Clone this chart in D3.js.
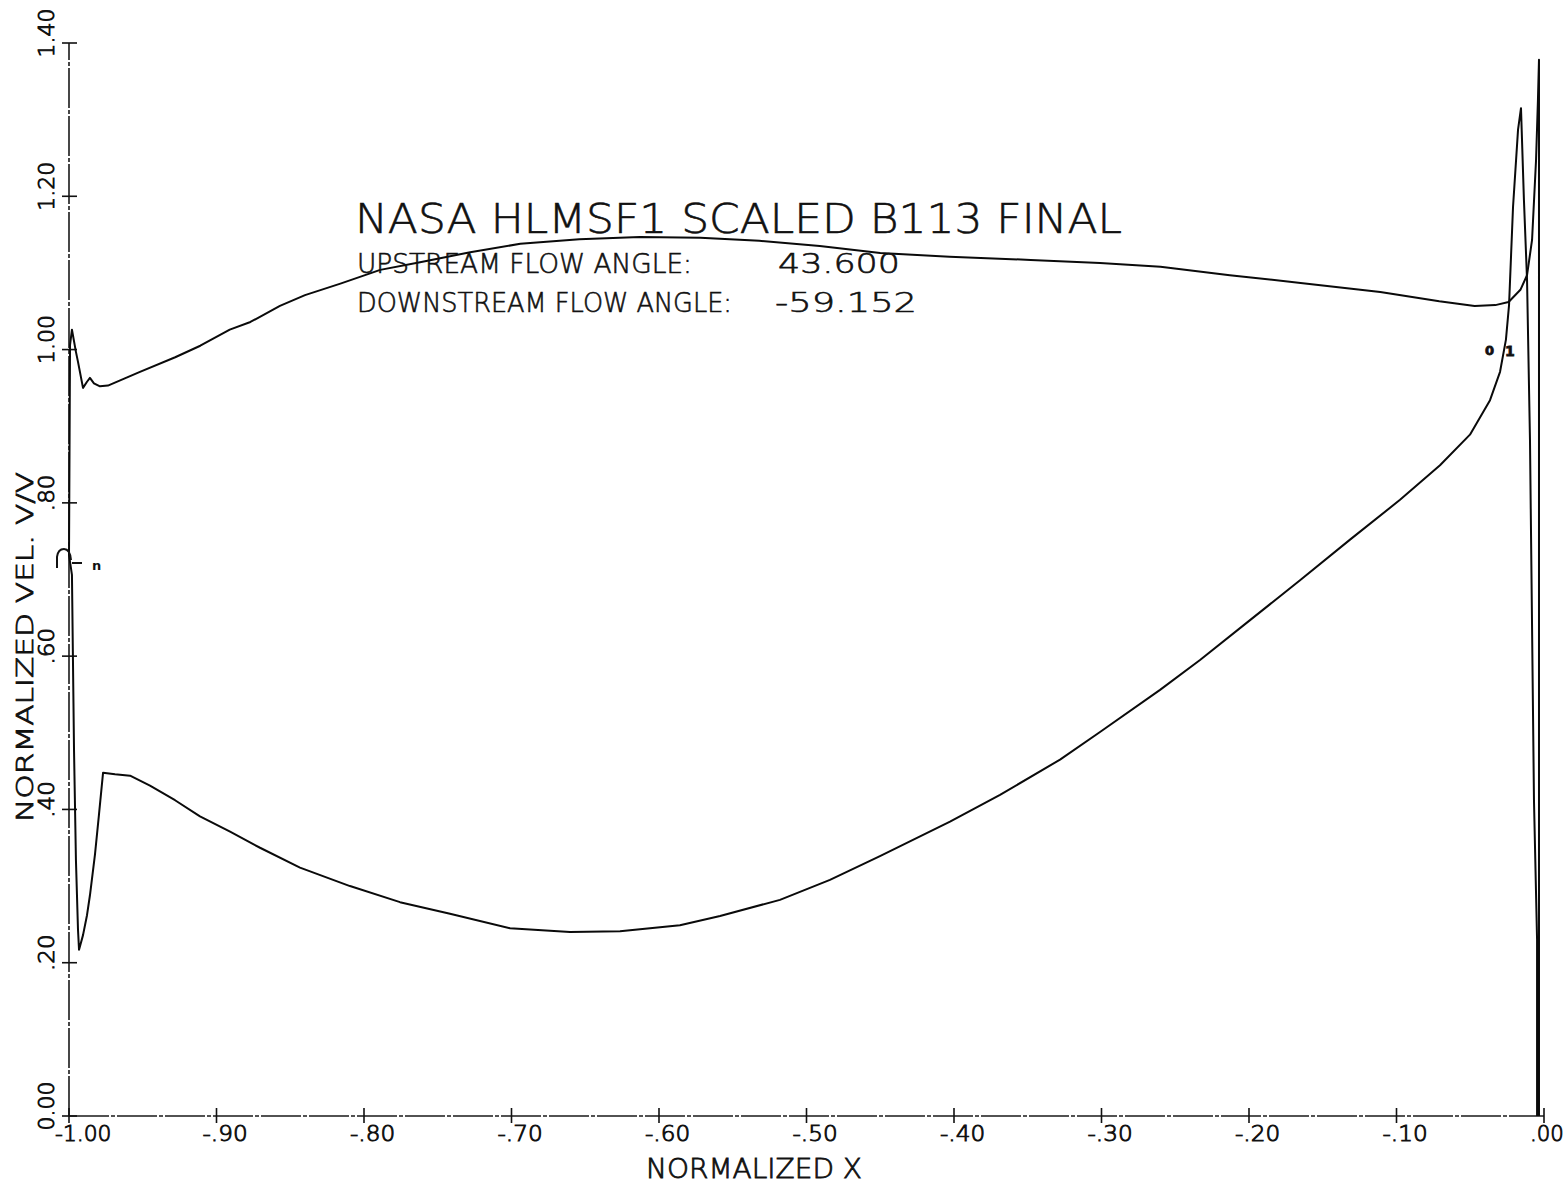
<!DOCTYPE html>
<html>
<head>
<meta charset="utf-8">
<script src="https://cdn.jsdelivr.net/npm/d3@7"></script>
<style>
  html, body { margin: 0; padding: 0; background: #fff; }
  svg { display: block; }
  .plotter { font-family: "DejaVu Sans", "Liberation Sans", sans-serif; fill: #111; }
</style>
</head>
<body>
<svg id="chart" width="1567" height="1183"></svg>
<script>
// Normalized surface velocity along the blade (upper and lower surfaces)
const upperX = [-1.0000, -0.9993, -0.9980, -0.9953, -0.9939, -0.9905, -0.9878, -0.9858, -0.9831, -0.9790,
  -0.9736, -0.9519, -0.9280, -0.9110, -0.8910, -0.8770, -0.8570, -0.8400, -0.8160, -0.7890,
  -0.7620, -0.7280, -0.6940, -0.6540, -0.6130, -0.5720, -0.5320, -0.4910, -0.4500, -0.4030,
  -0.3480, -0.3010, -0.2600, -0.2130, -0.1650, -0.1110, -0.0710, -0.0470, -0.0330, -0.0240,
  -0.0160, -0.0115, -0.0081, -0.0054, -0.0041, -0.0034, -0.0034];
const upperV = [0.732, 1.006, 1.026, 0.997, 0.984, 0.950, 0.958, 0.963, 0.956, 0.952,
  0.953, 0.971, 0.990, 1.005, 1.026, 1.036, 1.057, 1.071, 1.086, 1.104,
  1.114, 1.127, 1.138, 1.144, 1.147, 1.146, 1.142, 1.135, 1.126, 1.121,
  1.117, 1.113, 1.108, 1.097, 1.087, 1.075, 1.063, 1.057, 1.058, 1.062,
  1.078, 1.097, 1.143, 1.247, 1.326, 1.378, 0.000];

const lowerX = [-1.0000, -0.9980, -0.9966, -0.9953, -0.9939, -0.9932, -0.9905, -0.9878, -0.9858, -0.9824,
  -0.9797, -0.9769, -0.9688, -0.9586, -0.9451, -0.9281, -0.9112, -0.8908, -0.8705, -0.8434,
  -0.8095, -0.7756, -0.7417, -0.7010, -0.6603, -0.6264, -0.5858, -0.5586, -0.5180, -0.4841,
  -0.4502, -0.4027, -0.3688, -0.3281, -0.3010, -0.2603, -0.2332, -0.1993, -0.1654, -0.1315,
  -0.0976, -0.0705, -0.0502, -0.0366, -0.0298, -0.0258, -0.0237, -0.0210, -0.0176, -0.0156,
  -0.0136, -0.0115, -0.0095, -0.0068, -0.0047, -0.0047];
const lowerV = [0.732, 0.706, 0.478, 0.334, 0.243, 0.217, 0.236, 0.262, 0.288, 0.341,
  0.393, 0.448, 0.446, 0.444, 0.431, 0.412, 0.391, 0.371, 0.350, 0.324,
  0.300, 0.279, 0.264, 0.245, 0.240, 0.241, 0.249, 0.261, 0.282, 0.308,
  0.339, 0.384, 0.419, 0.465, 0.501, 0.556, 0.595, 0.647, 0.699, 0.752,
  0.804, 0.849, 0.889, 0.934, 0.971, 1.013, 1.058, 1.186, 1.287, 1.315,
  1.195, 1.091, 0.882, 0.412, 0.230, 0.000];

// Axis ticks and their printed labels
const xTicks = [-1.0, -0.9, -0.8, -0.7, -0.6, -0.5, -0.4, -0.3, -0.2, -0.1, 0.0];
const xTickLabels = ["-1.00", "-.90", "-.80", "-.70", "-.60", "-.50", "-.40", "-.30", "-.20", "-.10", ".00"];
const yTicks = [0.0, 0.2, 0.4, 0.6, 0.8, 1.0, 1.2, 1.4];
const yTickLabels = ["0.00", ".20", ".40", ".60", ".80", "1.00", "1.20", "1.40"];

const titleText = "NASA HLMSF1 SCALED B113 FINAL";
const flowLabels = ["UPSTREAM FLOW ANGLE:", "DOWNSTREAM FLOW ANGLE:"];
const flowValues = ["43.600", "-59.152"];
const xAxisTitle = "NORMALIZED X";
const yAxisTitle = "NORMALIZED VEL. V/V";

const svg = d3.select("#chart");
const x = d3.scaleLinear().domain([-1, 0]).range([69, 1544]);
const y = d3.scaleLinear().domain([0, 1.4]).range([1116, 43]);

// Plotter-style lettering: thin constant pen, glyphs squeezed to a set run length
function letter(g, str, px, py, size, len, weight, pen) {
  const t = g.append("text").attr("class", "plotter")
    .attr("x", px).attr("y", py)
    .attr("font-size", size)
    .attr("font-weight", weight || 200)
    .attr("stroke", "#111")
    .attr("stroke-width", pen == null ? 0.6 : pen)
    .text(str);
  if (len) t.attr("textLength", len).attr("lengthAdjust", "spacingAndGlyphs");
  return t;
}

// Axes (pen lines with a faint break pattern)
const axisStyle = sel => sel.attr("stroke", "#1a1a1a").attr("stroke-width", 1.6)
  .attr("stroke-dasharray", "40,2,4,2").attr("fill", "none");
svg.append("line").call(axisStyle)
  .attr("x1", x(-1)).attr("x2", x(0)).attr("y1", y(0)).attr("y2", y(0));
svg.append("line").call(axisStyle)
  .attr("x1", x(-1)).attr("x2", x(-1)).attr("y1", y(0)).attr("y2", y(1.4));

// Cross ticks
svg.append("g").selectAll("line").data(xTicks).join("line")
  .attr("x1", d => x(d)).attr("x2", d => x(d))
  .attr("y1", y(0) - 8).attr("y2", y(0) + 7)
  .attr("stroke", "#111").attr("stroke-width", 1.6);
svg.append("g").selectAll("line").data(yTicks).join("line")
  .attr("y1", d => y(d)).attr("y2", d => y(d))
  .attr("x1", x(-1) - 7).attr("x2", x(-1) + 8)
  .attr("stroke", "#111").attr("stroke-width", 1.6);

// Tick labels
const xl = svg.append("g");
xTicks.forEach((d, i) => {
  const s = xTickLabels[i];
  letter(xl, s, x(d) - 14, y(0) + 25, 21, s.length * 11.3, 200, 0.9);
});
const yl = svg.append("g");
yTicks.forEach((d, i) => {
  const s = yTickLabels[i];
  const len = s.length * 12.2;
  const cy = y(d) - 10;
  letter(yl, s, 0, 0, 21, len, 200, 0.9)
    .attr("text-anchor", "middle")
    .attr("transform", `translate(${x(-1) - 15},${cy}) rotate(-90)`);
});

// Axis titles
letter(svg, xAxisTitle, 646, 1178, 27, 216, 200, 0.8);
letter(svg, yAxisTitle, 0, 0, 23, 350, 200, 0.8)
  .attr("text-anchor", "middle")
  .attr("transform", `translate(${x(-1) - 36},647) rotate(-90)`);

// Velocity curves
const line = d3.line().x(d => x(d[0])).y(d => y(d[1])).curve(d3.curveLinear);
const upper = upperX.map((v, i) => [v, upperV[i]]);
const lower = lowerX.map((v, i) => [v, lowerV[i]]);
svg.append("path").datum(upper).attr("d", line)
  .attr("fill", "none").attr("stroke", "#0a0a0a").attr("stroke-width", 2)
  .attr("stroke-linejoin", "round");
svg.append("path").datum(lower).attr("d", line)
  .attr("fill", "none").attr("stroke", "#0a0a0a").attr("stroke-width", 2)
  .attr("stroke-linejoin", "round");

// Stagnation marker at the leading edge
const lx = x(lowerX[0]), ly = y(lowerV[0]);
svg.append("path")
  .attr("d", `M${lx - 12},${ly + 13} L${lx - 12},${ly + 2} Q${lx - 11},${ly - 6} ${lx - 5},${ly - 6} Q${lx + 1},${ly - 6} ${lx + 2},${ly + 5} M${lx + 3},${ly + 8} L${lx + 13},${ly + 8}`)
  .attr("fill", "none").attr("stroke", "#111").attr("stroke-width", 2);
letter(svg, "n", lx + 23, ly + 15, 13, null, 700, 0);

// Trailing-edge markers
letter(svg, "0", x(-0.0400), y(1.0) + 5, 13, null, 700, 0.8);
letter(svg, "1", x(-0.0265), y(1.0) + 6, 14, null, 700, 0.8);

// Heading block
letter(svg, titleText, 355, 233, 41, 767);
letter(svg, flowLabels[0], 357, 273, 27, 335);
letter(svg, flowValues[0], 778, 273, 27, 122);
letter(svg, flowLabels[1], 357, 312, 27, 375);
letter(svg, flowValues[1], 775, 312, 27, 142);
</script>
</body>
</html>
